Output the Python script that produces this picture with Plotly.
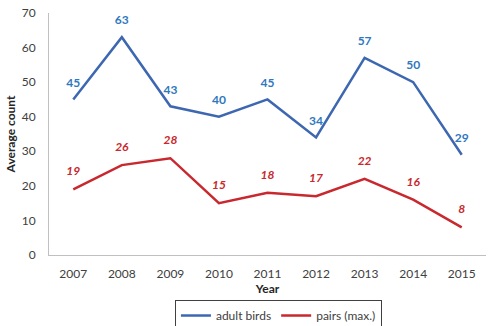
import plotly.graph_objects as go

years = ["2007", "2008", "2009", "2010", "2011", "2012", "2013", "2014", "2015"]
adult_birds = [45, 63, 43, 40, 45, 34, 57, 50, 29]
pairs_max = [19, 26, 28, 15, 18, 17, 22, 16, 8]

blue = "#3d67b0"
blue_txt = "#2f78bd"
red = "#c8282e"
FONT = "Lato"
clear = "rgba(0,0,0,0)"

fig = go.Figure()
fig.add_trace(go.Scatter(
    x=years, y=adult_birds, name="adult birds", mode="lines+markers+text",
    line=dict(color=blue, width=2.5),
    marker=dict(size=14, color=clear, line=dict(width=0, color=clear)),
    text=["<b>%d</b>" % v for v in adult_birds], textposition="top center",
    textfont=dict(color=blue_txt, size=12, family=FONT),
    cliponaxis=False,
))
fig.add_trace(go.Scatter(
    x=years, y=pairs_max, name="pairs (max.)", mode="lines+markers+text",
    line=dict(color=red, width=2.5),
    marker=dict(size=16, color=clear, line=dict(width=0, color=clear)),
    text=["<b><i>%d</i></b>" % v for v in pairs_max], textposition="top center",
    textfont=dict(color=red, size=12, family=FONT),
    cliponaxis=False,
))

fig.update_layout(
    width=488, height=326,
    margin=dict(l=49, r=2, t=13, b=71, autoexpand=False),
    paper_bgcolor="white", plot_bgcolor="white",
    font=dict(family=FONT, size=12, color="#404040"),
    xaxis=dict(
        type="category", showgrid=False, showline=True, linecolor="#c0c0c0",
        linewidth=1, ticks="", tickfont=dict(size=12, color="#404040"),
        ticklabelstandoff=8, automargin=False,
        title=dict(text="<b>Year</b>", font=dict(size=12, color="#262626"), standoff=2),
        range=[-0.5, 8.5],
    ),
    yaxis=dict(
        range=[0, 70], dtick=10, showgrid=False, showline=True,
        linecolor="#c0c0c0", linewidth=1, ticks="", zeroline=False,
        tickfont=dict(size=12, color="#404040"), ticklabelstandoff=10,
        automargin=False,
        title=dict(text="<b>Average count</b>", font=dict(size=12, color="#262626"), standoff=3),
    ),
    legend=dict(
        orientation="h", x=0.525, xanchor="center", y=-0.186, yanchor="top",
        bordercolor="#404040", borderwidth=1, font=dict(size=12, color="#404040"),
        itemwidth=30, tracegroupgap=0,
    ),
    showlegend=True,
)

fig.write_html("out.html", config={"displayModeBar": False},
               post_script="document.body.style.margin='0px';")
